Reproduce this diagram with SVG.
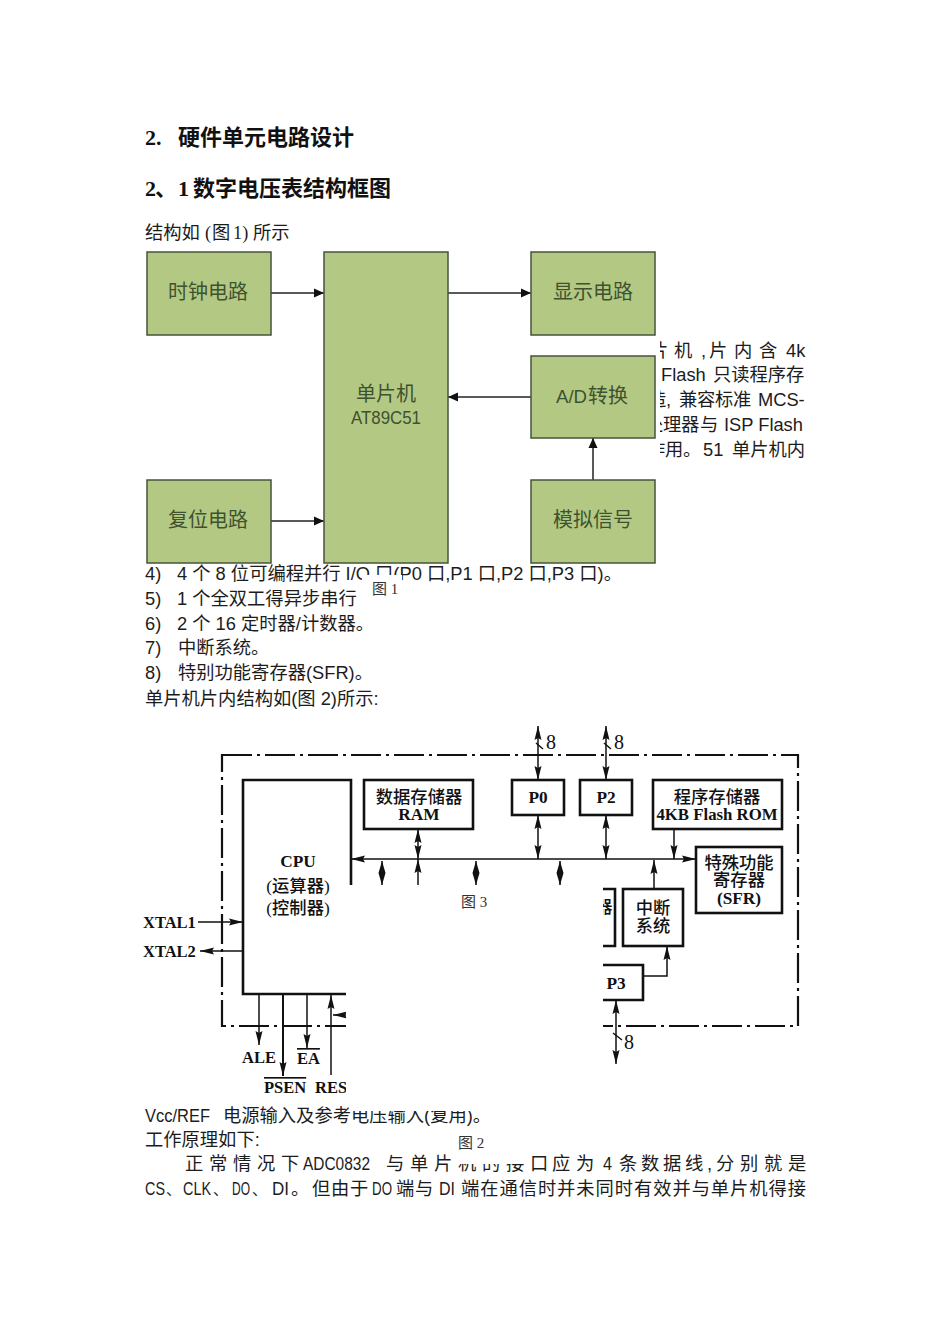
<svg xmlns="http://www.w3.org/2000/svg" width="950" height="1344" viewBox="0 0 950 1344">
<style>
text{font-family:"Liberation Sans","Noto Sans CJK SC",sans-serif;fill:#1c1c1c}
.h{font-size:22px;font-weight:700;fill:#111}
.b{font-size:18.3px}
.p{font-size:15px}
.r{font-family:"Liberation Serif","Noto Sans CJK SC",serif}
.cap{font-size:15px;fill:#333;font-family:"Liberation Serif","Noto Sans CJK SC",serif}
.g rect{fill:#b3c983;stroke:#46543a;stroke-width:1.5}
.g text{font-size:20px;fill:#3e5230;text-anchor:middle}
.k{fill:none;stroke:#111;stroke-width:2.6}
.f{fill:#fff;stroke:#111;stroke-width:2.6}
.t{font-family:"Liberation Serif","Noto Sans CJK SC",serif;font-size:17.3px;font-weight:500;fill:#111;text-anchor:middle}
.tb{font-weight:700}
.l{font-family:"Liberation Serif",serif;font-size:16.5px;font-weight:700;fill:#111}
.n{font-family:"Liberation Serif",serif;font-size:20px;fill:#111}
.c1 path{fill:none;stroke:#222;stroke-width:1.5;marker-end:url(#a1)}
.c2 path{fill:none;stroke:#111;stroke-width:1.5}
.e{marker-end:url(#a2)}
.d{marker-start:url(#a2);marker-end:url(#a2)}
.s{marker-start:url(#a3);marker-end:url(#a3)}
</style>
<defs>
<marker id="a1" markerUnits="userSpaceOnUse" markerWidth="11" markerHeight="10" refX="10" refY="5" orient="auto"><path d="M0 0.5L10 5L0 9.5Z" fill="#111"/></marker>
<marker id="a2" markerUnits="userSpaceOnUse" markerWidth="15" markerHeight="8" refX="14" refY="4" orient="auto-start-reverse"><path d="M0 0.5L14 4L0 7.5L2 4Z" fill="#111"/></marker>
<marker id="a3" markerUnits="userSpaceOnUse" markerWidth="13" markerHeight="8" refX="12" refY="4" orient="auto-start-reverse"><path d="M0 0.5L12 4L0 7.5Z" fill="#111"/></marker>
<clipPath id="rt"><rect x="660" y="335" width="160" height="130"/></clipPath>
</defs>

<g id="headings">
<text class="h r" x="145" y="145">2.</text><text class="h" x="178" y="145">硬件单元电路设计</text>
<text class="h r" x="145" y="196">2</text><text class="h" x="155" y="196">、</text><text class="h r" x="178" y="196">1</text><text class="h" x="193" y="196">数字电压表结构框图</text>
<text class="b" y="239"><tspan x="145">结构如</tspan><tspan class="r" x="205">(</tspan><tspan x="212">图</tspan><tspan class="r" x="233">1)</tspan><tspan x="253">所示</tspan></text>
</g>

<g id="side-text" clip-path="url(#rt)">
<text class="b" y="357" x="650 674 701 709 734 759">片机,片内含</text>
<text class="b" y="357" x="786">4k</text>
<text class="b" y="381" x="661">Flash</text>
<text class="b" y="381" x="713">只读程序存</text>
<text class="b" y="406" x="648 666 679 697 715 733">造,兼容标准</text>
<text class="b" y="406" x="758">MCS-</text>
<text class="b" y="431" x="645 663 681 700">处理器与</text>
<text class="b" y="431" x="724">ISP Flash</text>
<text class="b" y="456" x="647 665 683">作用。</text>
<text class="b" y="456" x="703">51</text>
<text class="b" y="456" x="732">单片机内</text>
</g>

<g id="list-text">
<text class="b" y="580"><tspan x="145">4)</tspan><tspan x="177">4 个 8 位可编程并行 I/O 口(P0 口,P1 口,P2 口,P3 口)。</tspan></text>
<rect x="362" y="575" width="40" height="24" fill="#fff"/>
<text class="b" y="605"><tspan x="145">5)</tspan><tspan x="177">1 个全双工得异步串行</tspan></text>
<text class="b" y="630"><tspan x="145">6)</tspan><tspan x="177">2 个 16 定时器/计数器。</tspan></text>
<text class="b" y="654"><tspan x="145">7)</tspan><tspan x="178">中断系统。</tspan></text>
<text class="b" y="679"><tspan x="145">8)</tspan><tspan x="178">特别功能寄存器(SFR)。</tspan></text>
<text class="b" x="145" y="705">单片机片内结构如(图 2)所示:</text>
<text class="cap" x="372" y="594">图 1</text>
</g>

<g id="bottom-text">
<text class="b" y="1122"><tspan x="145" textLength="65" lengthAdjust="spacingAndGlyphs">Vcc/REF</tspan><tspan x="223">电源输入及参考电压输入(复用)。</tspan></text>
<rect x="349" y="1100" width="170" height="11" fill="#fff"/>
<text class="b" x="145" y="1146">工作原理如下:</text>
<text class="cap" x="458" y="1148">图 2</text>
<text class="b" y="1170" x="185 209 233 257 281">正常情况下</text>
<text class="b" y="1170" x="303" textLength="67" lengthAdjust="spacingAndGlyphs">ADC0832</text>
<text class="b" y="1170" x="386 410 434 458 482 506 530 552 576">与单片机的接口应为</text>
<rect x="454" y="1150" width="78" height="14" fill="#fff"/>
<text class="b" y="1170" x="603" textLength="9" lengthAdjust="spacingAndGlyphs">4</text>
<text class="b" y="1170" x="619 641 663 685 707 716 740 764 788">条数据线,分别就是</text>
<g id="line-last">
<text class="b" y="1195" x="145" textLength="20" lengthAdjust="spacingAndGlyphs">CS</text>
<text class="p" y="1195" x="166">、</text>
<text class="b" y="1195" x="183" textLength="28" lengthAdjust="spacingAndGlyphs">CLK</text>
<text class="p" y="1195" x="213">、</text>
<text class="b" y="1195" x="232" textLength="18" lengthAdjust="spacingAndGlyphs">DO</text>
<text class="p" y="1195" x="252">、</text>
<text class="b" y="1195" x="272" textLength="17" lengthAdjust="spacingAndGlyphs">DI</text>
<text class="b" y="1195" x="291 312 331 350">。但由于</text>
<text class="b" y="1195" x="372" textLength="20" lengthAdjust="spacingAndGlyphs">DO</text>
<text class="b" y="1195" x="396 415">端与</text>
<text class="b" y="1195" x="439" textLength="16" lengthAdjust="spacingAndGlyphs">DI</text>
<text class="b" y="1195" x="461" textLength="345" lengthAdjust="spacing">端在通信时并未同时有效并与单片机得接</text>
</g>
</g>

<g id="fig1-connectors" class="c1">
<path d="M271 293H324"/>
<path d="M448 293H531"/>
<path d="M531 397H448"/>
<path d="M593 480V438"/>
<path d="M271 521H324"/>
</g>
<g id="clock" class="g"><rect x="147" y="252" width="124" height="83"/><text x="208" y="299">时钟电路</text></g>
<g id="mcu" class="g"><rect x="324" y="252" width="124" height="311"/><text x="386" y="401">单片机</text><text x="351" y="424" style="font-size:18px;text-anchor:start" textLength="70" lengthAdjust="spacingAndGlyphs">AT89C51</text></g>
<g id="display" class="g"><rect x="531" y="252" width="124" height="83"/><text x="593" y="299">显示电路</text></g>
<g id="adc" class="g"><rect x="531" y="356" width="124" height="82"/><text x="556" y="403" style="font-size:18px;text-anchor:start" textLength="31" lengthAdjust="spacingAndGlyphs">A/D</text><text x="608" y="403">转换</text></g>
<g id="reset" class="g"><rect x="147" y="480" width="124" height="83"/><text x="208" y="527">复位电路</text></g>
<g id="analog" class="g"><rect x="531" y="480" width="124" height="83"/><text x="593" y="527">模拟信号</text></g>

<g id="fig2-frame"><rect x="222" y="755" width="576" height="271" fill="none" stroke="#111" stroke-width="2.2" stroke-dasharray="30 5 3 5"/></g>

<g id="fig2-connectors" class="c2">
<path class="d" d="M351 859H696"/>
<path class="d" d="M418 829V859"/>
<path class="e" d="M418 885V859"/>
<path class="s" d="M382 861V885"/>
<path class="s" d="M476 861V885"/>
<path class="s" d="M560 861V885"/>
<path class="d" d="M538 726V780"/>
<path class="d" d="M538 815V859"/>
<path class="d" d="M606 726V780"/>
<path class="d" d="M606 815V859"/>
<path class="e" d="M674 829V859"/>
<path class="e" d="M654 889V860"/>
<path class="e" d="M643 976H667V946"/>
<path class="d" d="M616 1000V1064"/>
<path d="M536 743L543 749M604 743L611 749M613 1033L622 1040"/>
<path class="e" d="M198 922H243"/>
<path class="e" d="M243 951H200"/>
<path class="e" d="M259 994V1045"/>
<path class="e" style="stroke-width:2" d="M283 994V1076"/>
<path class="e" d="M307 994V1048"/>
<path class="e" d="M331 1075V995"/>
<path class="e" d="M346 1015H333"/>
</g>

<g id="cpu"><path class="k" d="M351 885V780H243V994H346" style="fill:#fff"/><text class="t tb" x="298" y="867">CPU</text><text class="t" x="298" y="892">(运算器)</text><text class="t" x="298" y="914">(控制器)</text></g>
<g id="ram"><rect class="f" x="364" y="780" width="109" height="49"/><text class="t" x="419" y="803">数据存储器</text><text class="t tb" x="419" y="820">RAM</text></g>
<g id="p0"><rect class="f" x="512" y="780" width="52" height="35"/><text class="t tb" x="538" y="803">P0</text></g>
<g id="p2"><rect class="f" x="580" y="780" width="52" height="35"/><text class="t tb" x="606" y="803">P2</text></g>
<g id="flash"><rect class="f" x="653" y="780" width="129" height="49"/><text class="t" x="717" y="803">程序存储器</text><text class="t tb" x="717" y="820" style="font-size:16.8px">4KB Flash ROM</text></g>
<g id="sfr"><rect class="f" x="696" y="847" width="86" height="66"/><text class="t" x="739" y="869">特殊功能</text><text class="t" x="739" y="886">寄存器</text><text class="t tb" x="739" y="904">(SFR)</text></g>
<g id="interrupt"><rect class="f" x="623" y="889" width="60" height="57"/><text class="t" x="653" y="914">中断</text><text class="t" x="653" y="932">系统</text></g>

<g id="fig2-mask"><rect x="346" y="886" width="257" height="215" fill="#fff"/></g>

<g id="timer-fragment"><path class="k" d="M603 889H615V946H603"/><svg x="603" y="895" width="10" height="25"><text class="t" x="1" y="18">器</text></svg></g>
<g id="p3"><path class="k" d="M603 965H643V1000H603" style="fill:#fff"/><text class="t tb" x="616" y="989">P3</text></g>

<g id="fig2-labels">
<text class="l" x="143" y="928">XTAL1</text>
<text class="l" x="143" y="957">XTAL2</text>
<text class="l" x="242" y="1063">ALE</text>
<text class="l" x="264" y="1093" text-decoration="overline">PSEN</text>
<text class="l" x="297" y="1064" text-decoration="overline">EA</text>
<svg x="312" y="1075" width="34" height="25"><text class="l" x="3" y="18">RES</text></svg>
<text class="n" x="546" y="749">8</text>
<text class="n" x="614" y="749">8</text>
<text class="n" x="624" y="1049">8</text>
<text class="cap" x="461" y="907">图 3</text>
</g>
</svg>
